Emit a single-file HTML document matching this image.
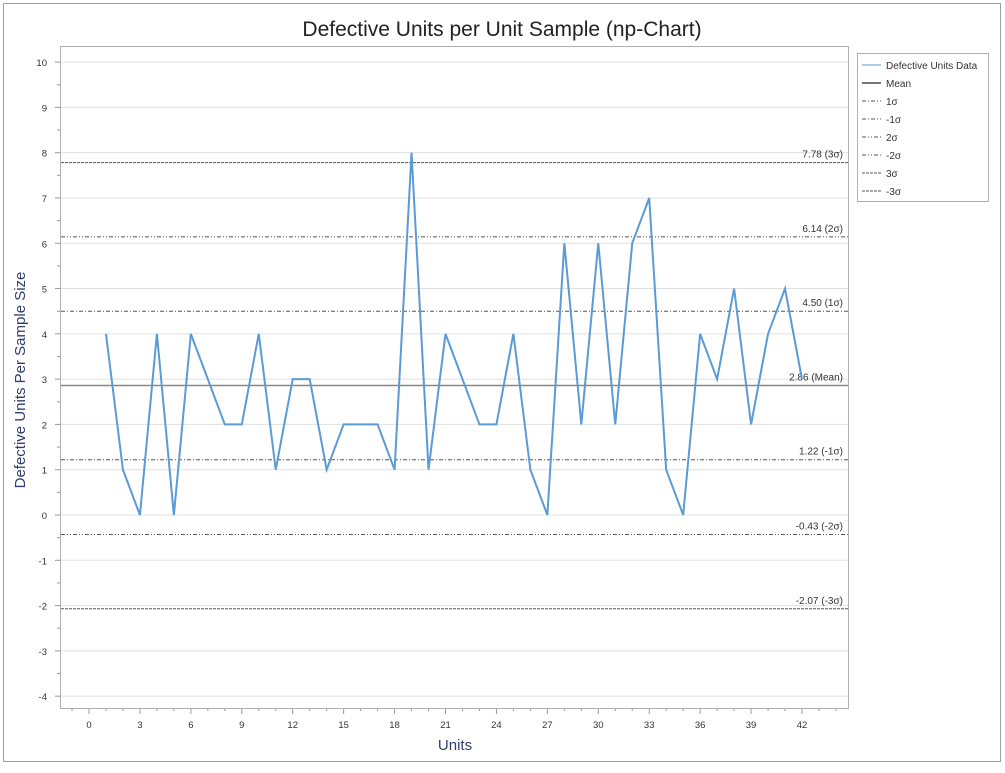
<!DOCTYPE html>
<html><head><style>body{margin:0;background:#fff}svg{display:block;font-family:"Liberation Sans",sans-serif}</style></head><body>
<svg width="1005" height="773" xmlns="http://www.w3.org/2000/svg">
<rect x="3.5" y="3.5" width="997" height="758" fill="#fff" stroke="#a0a0a0"/>
<text x="502" y="36" text-anchor="middle" font-size="21" fill="#222">Defective Units per Unit Sample (np-Chart)</text>
<g id="grid" stroke="#e0e0e0" stroke-width="1"></g>
<rect x="60.5" y="46.5" width="788" height="662" fill="none" stroke="#b0b0b0"/>
<g id="ax" font-size="9.5" fill="#333"></g>
<text x="455" y="750" text-anchor="middle" font-size="15" fill="#2f3f6f">Units</text>
<text transform="translate(25,380) rotate(-90)" text-anchor="middle" font-size="15" fill="#2f3f6f">Defective Units Per Sample Size</text>
<g id="lim"></g>
<polyline id="data" fill="none" stroke="#5b9bd5" stroke-width="2"/>
<rect x="857.5" y="53.5" width="131" height="148" fill="#fff" stroke="#b0b0b0"/>
<g font-size="10" fill="#333">
<line x1="862" y1="65" x2="881" y2="65" stroke="#5b9bd5"/><text x="886" y="69">Defective Units Data</text>
<line x1="862" y1="83" x2="881" y2="83" stroke="#777" stroke-width="2"/><text x="886" y="87">Mean</text>
<line x1="862" y1="101" x2="881" y2="101" stroke="#555" stroke-dasharray="4,2,1,2"/><text x="886" y="105">1σ</text>
<line x1="862" y1="119" x2="881" y2="119" stroke="#555" stroke-dasharray="4,2,1,2"/><text x="886" y="123">-1σ</text>
<line x1="862" y1="137" x2="881" y2="137" stroke="#555" stroke-dasharray="4,2,1,2,1,2"/><text x="886" y="141">2σ</text>
<line x1="862" y1="155" x2="881" y2="155" stroke="#555" stroke-dasharray="4,2,1,2,1,2"/><text x="886" y="159">-2σ</text>
<line x1="862" y1="173" x2="881" y2="173" stroke="#555" stroke-dasharray="3,1"/><text x="886" y="177">3σ</text>
<line x1="862" y1="191" x2="881" y2="191" stroke="#555" stroke-dasharray="3,1"/><text x="886" y="195">-3σ</text>
</g>
<script>
var ns="http://www.w3.org/2000/svg";
function X(v){return 89+v*16.976}function Y(v){return 515-v*45.29}
function el(p,t,a,txt){var e=document.createElementNS(ns,t);for(var k in a)e.setAttribute(k,a[k]);if(txt!=null)e.textContent=txt;document.getElementById(p).appendChild(e);return e}
for(var v=-4;v<=10;v++){var y=Y(v);el("grid","line",{x1:61,x2:848,y1:y,y2:y});el("ax","line",{x1:55,x2:60,y1:y,y2:y,stroke:"#999"});el("ax","text",{x:47,y:y+4,"text-anchor":"end"},v);}
for(var v=-3.5;v<10.5;v+=0.5){if(v%1)el("ax","line",{x1:57,x2:60,y1:Y(v),y2:Y(v),stroke:"#999"});}
for(var v=-1;v<=44;v++){var x=X(v);var big=v%3==0;el("ax","line",{x1:x,x2:x,y1:709,y2:big?714:711,stroke:"#999"});if(big&&v>=0&&v<=42)el("ax","text",{x:x,y:728,"text-anchor":"middle"},v);}
var L=[[7.78,"7.78 (3σ)","3,1"],[6.14,"6.14 (2σ)","4,2,1,2,1,2"],[4.50,"4.50 (1σ)","4,2,1,2"],[2.86,"2.86 (Mean)",""],[1.22,"1.22 (-1σ)","4,2,1,2"],[-0.43,"-0.43 (-2σ)","4,2,1,2,1,2"],[-2.07,"-2.07 (-3σ)","3,1"]];
L.forEach(function(l){var y=Y(l[0]);var a={x1:61,x2:848,y1:y,y2:y,stroke:l[2]?"#555":"#888","stroke-width":l[2]?1:1.5};if(l[2])a["stroke-dasharray"]=l[2];el("lim","line",a);el("lim","text",{x:843,y:y-5,"text-anchor":"end","font-size":10,fill:"#333"},l[1]);});
var d=[4,1,0,4,0,4,3,2,2,4,1,3,3,1,2,2,2,1,8,1,4,3,2,2,4,1,0,6,2,6,2,6,7,1,0,4,3,5,2,4,5,3];
document.getElementById("data").setAttribute("points",d.map(function(v,i){return X(i+1)+","+Y(v)}).join(" "));
</script>
</svg>
</body></html>
